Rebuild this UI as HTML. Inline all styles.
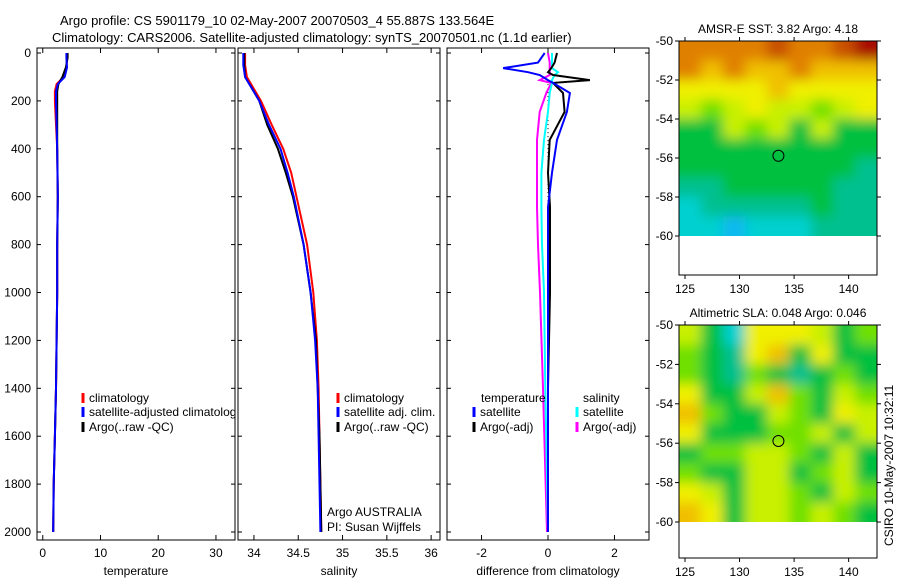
<!DOCTYPE html>
<html><head><meta charset="utf-8">
<style>
html,body{margin:0;padding:0;background:#fff;}
svg{display:block;font-family:"Liberation Sans",sans-serif;}
</style></head>
<body>
<svg id="c" width="900" height="580" viewBox="0 0 900 580">
<defs>
<filter id="blur-sst" filterUnits="userSpaceOnUse" x="640" y="0" width="280" height="300"><feGaussianBlur stdDeviation="6"/></filter>
<filter id="blur-sla" filterUnits="userSpaceOnUse" x="640" y="280" width="280" height="300"><feGaussianBlur stdDeviation="6"/></filter>
</defs>
<text x="60" y="25" font-size="13">Argo profile: CS 5901179_10 02-May-2007 20070503_4 55.887S 133.564E</text>
<text x="52" y="42" font-size="13">Climatology: CARS2006. Satellite-adjusted climatology: synTS_20070501.nc (1.1d earlier)</text>
<text transform="translate(893,546) rotate(-90)" font-size="12">CSIRO 10-May-2007 10:32:11</text>
</svg>
<script>
// ---------- data ----------
const depthTicks=[0,200,400,600,800,1000,1200,1400,1600,1800,2000];
const tempTicks=[0,10,20,30];
const salTicks=[34,34.5,35,35.5,36];
const diffTicks=[-2,0,2];
const lonTicks=[125,130,135,140];
const latTicks=[-50,-52,-54,-56,-58,-60];

const tDepth=[0,20,60,100,130,160,200,300,400,600,800,1000,1200,1400,1600,1800,2000];
const tClim=[4.2,4.2,4.1,3.6,2.4,2.1,2.1,2.3,2.5,2.6,2.5,2.5,2.4,2.3,2.1,1.9,1.8];
const tSat=[4.1,4.1,4.2,3.8,2.6,2.3,2.3,2.4,2.5,2.6,2.5,2.5,2.4,2.3,2.1,1.9,1.8];
const tArgo=[4.3,4.3,4.0,3.4,2.7,2.5,2.5,2.5,2.5,2.6,2.5,2.5,2.4,2.3,2.1,1.9,1.8];

const sDepth=[0,50,100,150,200,300,400,500,600,800,1000,1200,1400,1600,1800,2000];
const sClim=[33.9,33.9,33.92,34.0,34.08,34.2,34.33,34.42,34.48,34.6,34.67,34.71,34.73,34.74,34.75,34.76];
const sSat=[33.88,33.88,33.9,33.98,34.06,34.17,34.3,34.38,34.45,34.56,34.64,34.69,34.72,34.73,34.74,34.75];
const sArgo=[33.89,33.89,33.9,33.98,34.06,34.15,34.27,34.36,34.44,34.56,34.64,34.7,34.72,34.74,34.75,34.76];

const dDepth=[0,40,63,80,92,113,125,167,246,363,500,643,800,1000,1400,2000];
const dSatT=[-0.1,-0.3,-1.35,-0.6,-0.25,0.0,0.15,0.66,0.57,0.27,0.12,0.0,0.0,0.0,0.0,0.0];
const dArgoT=[0.27,0.2,0.1,0.0,0.15,1.26,0.15,0.45,0.5,0.05,0.0,0.06,0.06,0.06,0.0,0.0];
const dSatS=[0.12,0.12,0.12,0.3,0.2,0.12,0.12,0.05,0.0,-0.12,-0.2,-0.2,-0.18,-0.12,-0.08,0.0];
const dArgoS=[0.0,0.05,0.05,0.05,0.05,-0.25,0.1,-0.05,-0.25,-0.33,-0.33,-0.33,-0.3,-0.24,-0.15,-0.03];

const sstGrid=[
[8,8,8,8,9,8,8,9,10],
[8,7,8,7,7,8,7,7,7],
[6,6,6,6,7,6,6,6,6],
[5,4,5,6,5,5,4,5,6],
[3,3,5,4,5,3,5,3,3],
[3,3,3,3,3,3,3,3,3],
[3,3,3,3,3,3,3,3,2],
[2,2,3,3,3,3,3,2,2],
[1,2,2,2,2,2,3,2,2],
[1,1,0,1,1,1,2,2,2]];
const slaGrid=[
[5,3,1,6,6,6,5,3,4],
[4,3,2,6,7,3,6,3,3],
[4,3,2,4,3,2,3,4,3],
[6,3,3,5,7,4,3,5,4],
[7,4,3,3,5,4,3,6,5],
[6,3,3,3,4,4,5,3,5],
[3,4,4,5,5,4,3,5,3],
[4,3,3,5,5,3,4,5,3],
[6,5,3,5,5,4,3,5,4],
[7,6,3,5,5,4,5,4,3]];
const palette=["#10b8f0","#00d0d0","#00c090","#00c040","#70e000","#c8f000","#f0f000","#f0c000","#e08000","#c85000","#a81000"];

// ---------- helpers ----------
const NS="http://www.w3.org/2000/svg";
const svg=document.getElementById('c');
function mk(tag,attrs,parent){const e=document.createElementNS(NS,tag);for(const k in attrs)e.setAttribute(k,attrs[k]);(parent||svg).appendChild(e);return e;}
const y0=53,y1=532;
function yD(d){return y0+(y1-y0)*d/2000;}
function panel(x0,x1,vmin,vmax,ticks,label,name){
  const sx=v=>x0+(x1-x0)*(v-vmin)/(vmax-vmin);
  const g=mk('g',{});
  
  
  const clip=mk('clipPath',{id:'clip-'+name},g);
  mk('rect',{x:x0,y:48,width:x1-x0,height:492},clip);
  ticks.forEach(t=>{
    const x=sx(t);
    mk('line',{x1:x,y1:48,x2:x,y2:53,stroke:'#000'},g);
    mk('line',{x1:x,y1:540,x2:x,y2:535,stroke:'#000'},g);
    const tx=mk('text',{x:x,y:557,'font-size':12,'text-anchor':'middle'},g);
    tx.textContent=t;
    
    
  });
  depthTicks.forEach(d=>{
    mk('line',{x1:x0,y1:yD(d),x2:x0+4,y2:yD(d),stroke:'#000'},g);
    mk('line',{x1:x1,y1:yD(d),x2:x1-4,y2:yD(d),stroke:'#000'},g);
  });
  const xl=mk('text',{x:(x0+x1)/2,y:575,'font-size':12,'text-anchor':'middle'},g);
  xl.textContent=label;
  
  
  const plot=mk('g',{'clip-path':'url(#clip-'+name+')'},g);
  return {sx,g,plot,x0,x1};
}
function line(p,vals,depths,color,nm,w,dash){
  const pts=vals.map((v,i)=>p.sx(v).toFixed(1)+','+yD(depths[i]).toFixed(1)).join(' ');
  const l=mk('polyline',{points:pts,fill:'none',stroke:color,'stroke-width':w||2,'stroke-linejoin':'miter'},p.plot);
  if(dash)l.setAttribute('stroke-dasharray',dash);
  
  
}
function frame(p){mk('rect',{x:p.x0,y:48,width:p.x1-p.x0,height:492,fill:'none',stroke:'#000'},p.g);}
function legItem(p,x,y,color,txt,nm){
  mk('line',{x1:x,y1:y-9,x2:x,y2:y+1,stroke:color,'stroke-width':3},p.plot);
  const t=mk('text',{x:x+6,y:y,'font-size':12},p.plot);
  t.textContent=txt;
  
  
}

depthTicks.forEach(d=>{
  const t=mk('text',{x:31,y:yD(d)+4,'font-size':12,'text-anchor':'end'});
  t.textContent=d;
  
  
});

const pT=panel(37,235,-1,33.3,tempTicks,'temperature','temperature');
line(pT,tClim,tDepth,'#f00','temp-climatology-line');
line(pT,tArgo,tDepth,'#000','temp-argo-line');
line(pT,tSat,tDepth,'#00f','temp-satellite-line');
legItem(pT,83,402,'#f00','climatology','legend-climatology');
legItem(pT,83,416,'#00f','satellite-adjusted climatology','legend-satellite');
legItem(pT,83,431,'#000','Argo(..raw -QC)','legend-argo');
frame(pT);

const pS=panel(238,440,33.82,36.1,salTicks,'salinity','salinity');
line(pS,sClim,sDepth,'#f00','sal-climatology-line');
line(pS,sArgo,sDepth,'#000','sal-argo-line');
line(pS,sSat,sDepth,'#00f','sal-satellite-line');
legItem(pS,338,402,'#f00','climatology','legend-climatology-sal');
legItem(pS,338,416,'#00f','satellite adj. clim.','legend-satellite-sal');
legItem(pS,338,431,'#000','Argo(..raw -QC)','legend-argo-sal');
const a1=mk('text',{x:327,y:516,'font-size':12},pS.g);a1.textContent='Argo AUSTRALIA';

const a2=mk('text',{x:327,y:531,'font-size':12},pS.g);a2.textContent='PI: Susan Wijffels';

frame(pS);

const pD=panel(447,649,-3.04,3.04,diffTicks,'difference from climatology','difference');
mk('line',{x1:pD.sx(0),y1:yD(130),x2:pD.sx(0),y2:yD(2000),stroke:'#000','stroke-dasharray':'1,3'},pD.plot);
line(pD,dArgoS,dDepth,'#f0f','diff-argo-sal-line');
line(pD,dSatS,dDepth,'#0ff','diff-sat-sal-line');
line(pD,dArgoT,dDepth,'#000','diff-argo-temp-line');
line(pD,dSatT,dDepth,'#00f','diff-sat-temp-line');
const h1=mk('text',{x:481,y:402,'font-size':12},pD.plot);h1.textContent='temperature';

const h2=mk('text',{x:583,y:402,'font-size':12},pD.plot);h2.textContent='salinity';

legItem(pD,474,416,'#00f','satellite','legend-sat-temp');
legItem(pD,474,431,'#000','Argo(-adj)','legend-argo-temp');
legItem(pD,577,416,'#0ff','satellite','legend-sat-sal');
legItem(pD,577,431,'#f0f','Argo(-adj)','legend-argo-sal-diff');
frame(pD);

function map(top,imgBot,boxBot,grid,title,name){
  const x0=679,x1=877,lonMin=124.45,lonMax=142.6;
  const sx=v=>x0+(x1-x0)*(v-lonMin)/(lonMax-lonMin);
  const sy=v=>top+(imgBot-top)*(-50-v)/10;
  const g=mk('g',{});
  
  
  const cid='clip-'+name;
  const cp=mk('clipPath',{id:cid},g);mk('rect',{x:x0,y:top,width:x1-x0,height:imgBot-top},cp);
  const outer=mk('g',{'clip-path':'url(#'+cid+')'},g);
  const inner=mk('g',{filter:'url(#blur-'+name+')'},outer);
  const rows=grid.length, cols=grid[0].length;
  const cw=(x1-x0)/cols, ch=(imgBot-top)/rows;
  grid.forEach((row,r)=>row.forEach((v,c)=>{
    const cell=mk('rect',{x:x0+c*cw-(c==0?15:0),y:top+r*ch-(r==0?15:0),width:cw+(c==0?15:0)+(c==cols-1?15:0)+0.5,height:ch+(r==0?15:0)+(r==rows-1?15:0)+0.5,fill:palette[v]},inner);
    
    
  }));
  mk('circle',{cx:sx(133.564),cy:sy(-55.887),r:5.5,fill:'none',stroke:'#000'},g);
  mk('rect',{x:x0,y:top,width:x1-x0,height:boxBot-top,fill:'none',stroke:'#000'},g);
  lonTicks.forEach(l=>{
    const x=sx(l);
    mk('line',{x1:x,y1:top,x2:x,y2:top-4,stroke:'#000'},g);
    mk('line',{x1:x,y1:boxBot,x2:x,y2:boxBot+4,stroke:'#000'},g);
    const t=mk('text',{x:x,y:boxBot+18,'font-size':12,'text-anchor':'middle'},g);t.textContent=l;
    
  });
  latTicks.forEach(l=>{
    const y=sy(l);
    mk('line',{x1:x0,y1:y,x2:x0-4,y2:y,stroke:'#000'},g);
    mk('line',{x1:x1,y1:y,x2:x1+4,y2:y,stroke:'#000'},g);
    const t=mk('text',{x:x0-6,y:y+4,'font-size':12,'text-anchor':'end'},g);t.textContent=l;
    
  });
  const tt=mk('text',{x:(x0+x1)/2,y:top-8,'font-size':12,'text-anchor':'middle'},g);tt.textContent=title;
  
}
map(41,236,275,sstGrid,'AMSR-E SST: 3.82 Argo: 4.18','sst');
map(325,522,558,slaGrid,'Altimetric SLA: 0.048 Argo: 0.046','sla');
</script>
</body></html>
